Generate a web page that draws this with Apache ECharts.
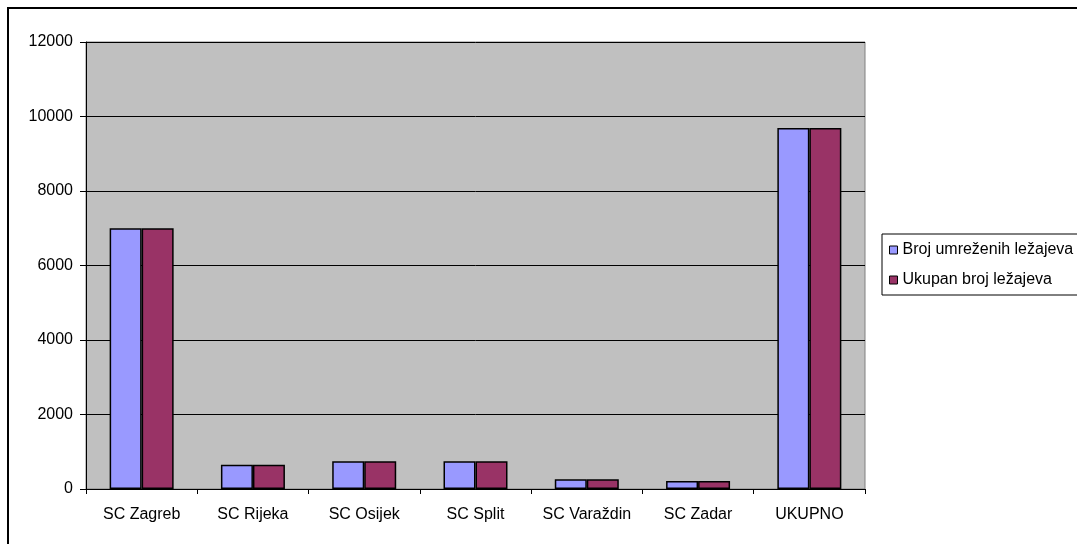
<!DOCTYPE html>
<html>
<head>
<meta charset="utf-8">
<script src="https://cdn.jsdelivr.net/npm/echarts@6/dist/echarts.min.js"></script>
<style>
  html, body { margin: 0; padding: 0; background: #fff; }
  #chart { width: 1077px; height: 544px; }
</style>
</head>
<body>
<div id="chart"></div>
<script>
  // podaci
  var categories = ['SC Zagreb', 'SC Rijeka', 'SC Osijek', 'SC Split', 'SC Varaždin', 'SC Zadar', 'UKUPNO'];
  var umrezeni = [7000, 650, 745, 745, 260, 215, 9690];
  var ukupno = [7000, 650, 745, 745, 260, 215, 9690];
  var yTicks = [0, 2000, 4000, 6000, 8000, 10000, 12000];

  var font = 'Arial, "Liberation Sans", sans-serif';
  var myChart = echarts.init(document.getElementById('chart'));

  myChart.setOption({
    animation: false,
    graphic: [{
      type: 'rect',
      shape: { x: 8, y: 8, width: 1200, height: 700 },
      style: { fill: 'none', stroke: '#000', lineWidth: 2 },
      z: 100
    }],
    grid: {
      left: 86, top: 42, right: 212, bottom: 55,
      show: true,
      backgroundColor: '#C0C0C0',
      borderColor: '#808080',
      borderWidth: 1
    },
    legend: {
      orient: 'vertical',
      left: 882,
      top: 234,
      padding: [8, 10, 7, 7],
      itemGap: 14,
      itemWidth: 8,
      itemHeight: 8,
      borderColor: '#000',
      borderWidth: 1,
      backgroundColor: '#fff',
      icon: 'rect',
      itemStyle: { borderColor: '#000', borderWidth: 1 },
      textStyle: { fontFamily: font, fontSize: 16, color: '#000' },
      data: ['Broj umreženih ležajeva', 'Ukupan broj ležajeva']
    },
    xAxis: {
      type: 'category',
      data: categories,
      axisLine: { lineStyle: { color: '#000', width: 1 } },
      axisTick: { show: true, interval: 0, length: 5, lineStyle: { color: '#000' } },
      axisLabel: { interval: 0, color: '#000', fontFamily: font, fontSize: 16, margin: 18 }
    },
    yAxis: {
      type: 'value',
      min: 0,
      max: yTicks[yTicks.length - 1],
      interval: yTicks[1] - yTicks[0],
      axisLine: { show: true, lineStyle: { color: '#000', width: 1 } },
      axisTick: { show: true, length: 6, lineStyle: { color: '#000' } },
      axisLabel: {
        color: '#000', fontFamily: font, fontSize: 16, margin: 13,
        formatter: function (v) { return String(v); }
      },
      splitLine: { show: true, lineStyle: { color: '#000', width: 1 } }
    },
    series: [{
      name: 'Broj umreženih ležajeva',
      type: 'bar',
      data: umrezeni,
      barWidth: 32,
      barGap: '0%',
      itemStyle: { color: '#9999FF', borderColor: '#000', borderWidth: 1.5 }
    }, {
      name: 'Ukupan broj ležajeva',
      type: 'bar',
      data: ukupno,
      barWidth: 32,
      barGap: '0%',
      itemStyle: { color: '#993366', borderColor: '#000', borderWidth: 1.5 }
    }]
  });
</script>
</body>
</html>
